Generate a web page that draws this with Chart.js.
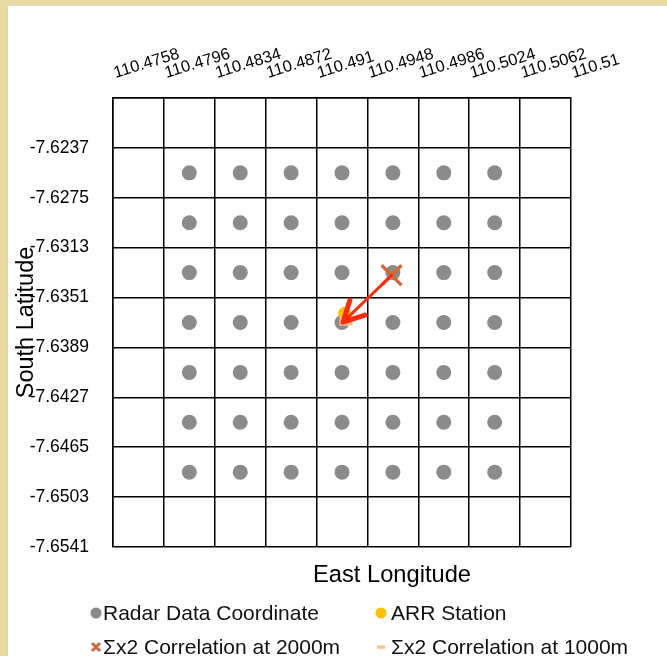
<!DOCTYPE html>
<html>
<head>
<meta charset="utf-8">
<title>Radar grid and correlation shift</title>
<script src="https://cdn.jsdelivr.net/npm/chart.js@4.4.0/dist/chart.umd.min.js"></script>
<style>
  body { margin: 0; background: #e8daa1; }
  .panel {
    position: absolute; left: 7px; top: 5px;
    width: 660px; height: 651px;
    background: #fff;
    border-left: 1px solid #d4d4d4; border-top: 1px solid #d4d4d4;
  }
  canvas { display: block; }
</style>
</head>
<body>
<div class="panel"><canvas id="radarChart" width="659" height="650"></canvas></div>
<script>
// === Data ===
// radar cell centres
const radarLon = [110.4815, 110.4853, 110.4891, 110.4929, 110.4967, 110.5005, 110.5043];
const radarLat = [-7.6256, -7.6294, -7.6332, -7.6370, -7.6408, -7.6446, -7.6484];

const arrLon = [110.4931];
const arrLat = [-7.6363];

const corr2000Lon = [110.4966];
const corr2000Lat = [-7.6334];

const corr1000Lon = [110.4932];
const corr1000Lat = [-7.6369];

// axis ticks (grid lines)
const lonTicks = [110.4758, 110.4796, 110.4834, 110.4872, 110.491, 110.4948, 110.4986, 110.5024, 110.5062, 110.51];
const latTicks = [-7.6541, -7.6503, -7.6465, -7.6427, -7.6389, -7.6351, -7.6313, -7.6275, -7.6237, -7.6199];

const FONT = '"Liberation Sans", Arial, sans-serif';

const toPoints = (xs, ys) => xs.map((x, i) => ({ x: x, y: ys[i] }));
const radarPoints = radarLat.flatMap(lat => radarLon.map(lon => ({ x: lon, y: lat })));

// === Marker helper (legend) ===
function drawMarker(ctx, ds, x, y) {
  ctx.save();
  ctx.beginPath();
  if (ds.pointStyle === 'crossRot') {
    const r = 4;
    ctx.moveTo(x - r, y - r); ctx.lineTo(x + r, y + r);
    ctx.moveTo(x + r, y - r); ctx.lineTo(x - r, y + r);
    ctx.strokeStyle = ds.borderColor;
    ctx.lineWidth = 3;
    ctx.stroke();
  } else if (ds.pointStyle === 'line') {
    ctx.moveTo(x - 4, y); ctx.lineTo(x + 4, y);
    ctx.strokeStyle = ds.borderColor;
    ctx.lineWidth = 3.5;
    ctx.stroke();
  } else {
    ctx.arc(x, y, 5.5, 0, Math.PI * 2);
    ctx.fillStyle = ds.backgroundColor;
    ctx.fill();
  }
  ctx.restore();
}

// === Arrow from 2000m to 1000m correlation ===
const arrowPlugin = {
  id: 'shiftArrow',
  afterDatasetsDraw(chart) {
    const from = chart.getDatasetMeta(2).data[0];
    const to = chart.getDatasetMeta(3).data[0];
    if (!from || !to) return;
    const ctx = chart.ctx;
    const ang = Math.atan2(from.y - to.y, from.x - to.x);
    const tipX = to.x - 3, tipY = to.y + 1;
    const head = 23;
    ctx.save();
    ctx.strokeStyle = '#ff2b0c';
    ctx.lineCap = 'round';
    ctx.lineJoin = 'round';
    ctx.lineWidth = 3;
    ctx.beginPath();
    ctx.moveTo(from.x, from.y);
    ctx.lineTo(tipX, tipY);
    ctx.stroke();
    ctx.lineWidth = 5;
    ctx.beginPath();
    ctx.moveTo(tipX + head * Math.cos(ang - 0.48), tipY + head * Math.sin(ang - 0.48));
    ctx.lineTo(tipX, tipY);
    ctx.lineTo(tipX + head * Math.cos(ang + 0.48), tipY + head * Math.sin(ang + 0.48));
    ctx.stroke();
    ctx.restore();
  }
};

// === Bottom axis title + two-column legend ===
const legendPlugin = {
  id: 'gridLegend',
  afterDraw(chart) {
    const ctx = chart.ctx;
    const area = chart.chartArea;
    const ds = chart.data.datasets;

    ctx.save();
    ctx.fillStyle = '#000';
    ctx.font = '23.7px ' + FONT;
    ctx.textAlign = 'center';
    ctx.textBaseline = 'alphabetic';
    ctx.fillText('East Longitude', (area.left + area.right) / 2 + 50, area.bottom + 35);

    const cols = [area.left - 17, area.left + 268];
    const textGap = [7, 10];
    const rows = [area.bottom + 66, area.bottom + 100];
    const slots = [[0, 0], [1, 0], [0, 1], [1, 1]];
    ctx.font = '21px ' + FONT;
    ctx.textAlign = 'left';
    ctx.textBaseline = 'middle';
    ds.forEach((d, i) => {
      const c = slots[i][0];
      const x = cols[c];
      const y = rows[slots[i][1]];
      drawMarker(ctx, d, x, y);
      ctx.fillStyle = '#111';
      ctx.fillText(d.label, x + textGap[c], y + 1);
    });
    ctx.restore();
  }
};

const ctx = document.getElementById('radarChart').getContext('2d');
new Chart(ctx, {
  type: 'scatter',
  data: {
    datasets: [
      {
        label: 'Radar Data Coordinate',
        data: radarPoints,
        backgroundColor: '#8b8b8b',
        borderWidth: 0,
        pointRadius: 7.5,
        order: 4
      },
      {
        label: 'ARR Station',
        data: toPoints(arrLon, arrLat),
        backgroundColor: '#ffc000',
        borderWidth: 0,
        pointRadius: 6.5,
        order: 3
      },
      {
        label: 'Σx2 Correlation at 2000m',
        data: toPoints(corr2000Lon, corr2000Lat),
        pointStyle: 'crossRot',
        borderColor: '#cf6a35',
        backgroundColor: '#cf6a35',
        borderWidth: 3.5,
        pointRadius: 14,
        order: 2
      },
      {
        label: 'Σx2 Correlation at 1000m',
        data: toPoints(corr1000Lon, corr1000Lat),
        pointStyle: 'line',
        borderColor: '#f7c48c',
        backgroundColor: '#f7c48c',
        borderWidth: 9,
        pointRadius: 6.5,
        order: 1
      }
    ]
  },
  options: {
    responsive: false,
    animation: false,
    events: [],
    layout: { padding: { left: 0, top: 0, right: 96, bottom: 109 } },
    plugins: {
      legend: { display: false },
      tooltip: { enabled: false }
    },
    scales: {
      x: {
        type: 'linear',
        position: 'top',
        min: lonTicks[0],
        max: lonTicks[lonTicks.length - 1],
        afterBuildTicks: scale => { scale.ticks = lonTicks.map(v => ({ value: v })); },
        afterFit: scale => {
          scale.height = 92;
          scale.paddingLeft = 0; scale.paddingRight = 0;
        },
        grid: { color: '#000', lineWidth: 1.5, drawTicks: false },
        border: { display: true, color: '#000', width: 1.5 },
        ticks: {
          autoSkip: false,
          minRotation: 17,
          maxRotation: 17,
          padding: 15,
          labelOffset: 7,
          color: '#000',
          font: { family: FONT, size: 16.5 },
          callback: v => String(+Number(v).toFixed(4))
        }
      },
      y: {
        type: 'linear',
        position: 'left',
        min: latTicks[0],
        max: latTicks[latTicks.length - 1],
        afterBuildTicks: scale => { scale.ticks = latTicks.map(v => ({ value: v })); },
        afterFit: scale => {
          scale.width = 105;
          scale.paddingTop = 0; scale.paddingBottom = 0;
        },
        grid: { color: '#000', lineWidth: 1.5, drawTicks: false },
        border: { display: true, color: '#000', width: 1.5 },
        title: {
          display: true,
          text: 'South Latitude',
          color: '#000',
          padding: { top: 4 },
          font: { family: FONT, size: 23.5 }
        },
        ticks: {
          padding: 24,
          color: '#000',
          font: { family: FONT, size: 17.5 },
          callback: v => (v === latTicks[latTicks.length - 1] ? '' : Number(v).toFixed(4))
        }
      }
    }
  },
  plugins: [arrowPlugin, legendPlugin]
});
</script>
</body>
</html>
